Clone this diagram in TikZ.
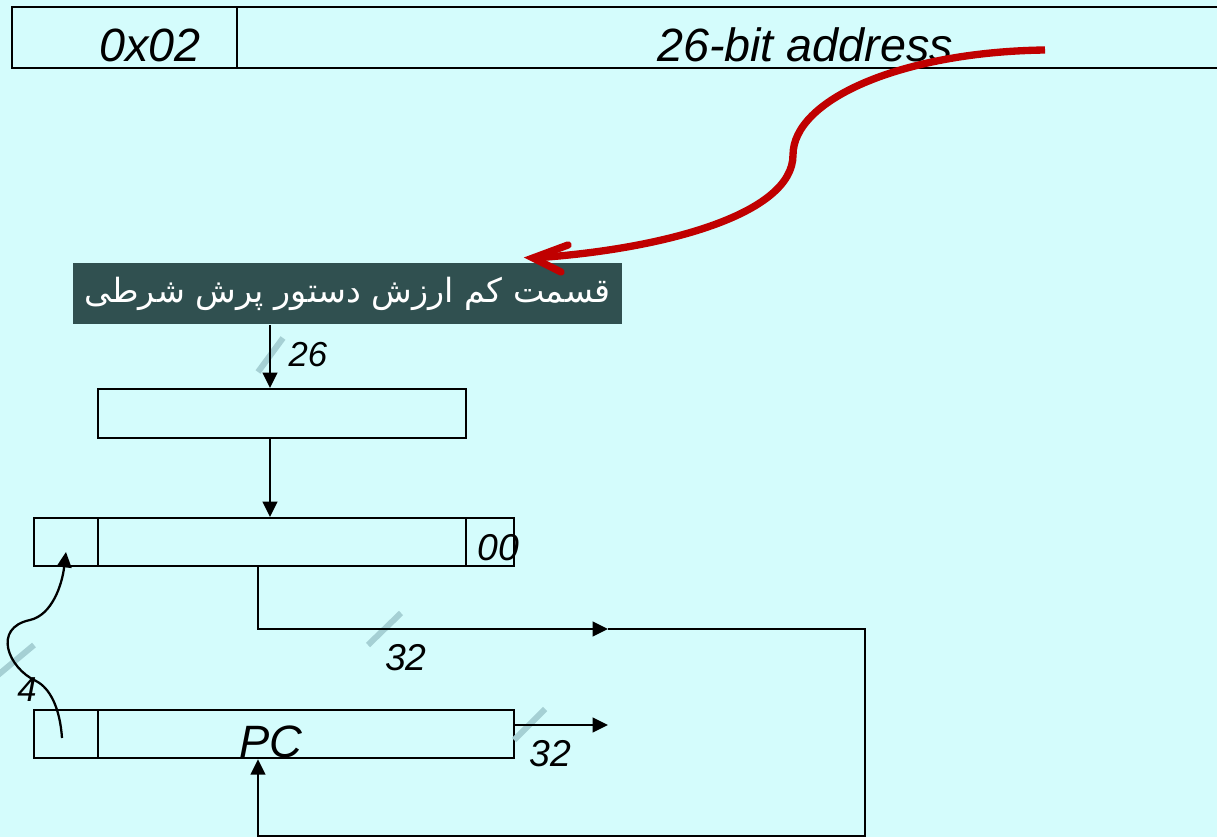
\documentclass[tikz,border=0pt]{standalone}
\usepackage{fontspec}
\setmainfont{Liberation Sans}
\newfontfamily\arabicfont[Script=Arabic]{DejaVu Sans}
\TeXXeTstate=1
\usetikzlibrary{arrows.meta}
\definecolor{bg}{RGB}{212,252,252}
\definecolor{darkbg}{RGB}{48,80,80}
\definecolor{redarr}{RGB}{192,0,0}
\definecolor{slashc}{RGB}{165,208,212}
\tikzset{
  box/.style 2 args={draw=black, line width=1.7pt, inner sep=0pt, anchor=north west,
    minimum width=#1*0.75pt, minimum height=#2*0.75pt},
  wire/.style={draw=black, line width=1.7pt},
  arr/.style={-{Triangle[length=11.5pt,width=11pt]}},
  slash/.style={draw=slashc, line width=4.5pt},
  lbl/.style={inner sep=0pt, font=\fontsize{28}{32}\selectfont\itshape},
  toplbl/.style={inner sep=0pt, font=\fontsize{35}{40}\selectfont\itshape},
}
\begin{document}
\begin{tikzpicture}[x=0.75pt,y=-0.75pt]
\useasboundingbox (0,0) rectangle (1217,837);
\fill[bg] (0,0) rectangle (1217,837);

% top instruction format
\node[box={225}{61}] (t0) at (11,6) {};
\node[box={995}{61}] (t1) at (236,6) {};
\node[toplbl] (l0x) at (150,45) {0x02};
\node[toplbl] (laddr) at (805,45) {26-bit address};

% dark label box
\node[box={549}{61}, draw=none, fill=darkbg, text=white,
  font=\arabicfont\fontsize{25}{30}\selectfont] (dk) at (72,262)
  {\beginR قسمت کم ارزش دستور پرش شرطی\endR};

% red arrow
\coordinate (rs) at (1045,50);
\coordinate (rt) at (533,258);
\draw[redarr, line width=5.5pt] (rs) .. controls (900,52) and (793,100) .. (793,155)
  .. controls (793,215) and (660,250) .. (rt);
\draw[redarr, line width=5.5pt, line cap=round, line join=miter]
  (568,245) -- (rt) -- (561,272);

% boxes
\node[box={368}{49}] (b2) at (97,388) {};
\node[box={64}{48}] (b3a) at (33,517) {};
\node[box={368}{48}] (b3b) at (97,517) {};
\node[box={48}{48}] (b3c) at (465,517) {};
\node[box={64}{48}] (pca) at (33,709) {};
\node[box={416}{48}] (pcb) at (97,709) {};

% coordinates
\coordinate (x270) at (270,0);
\coordinate (x258) at (258,0);
\coordinate (j1) at (608,629);
\coordinate (r1) at (865,629);
\coordinate (r2) at (865,836);
\coordinate (o1) at (608,725);
\coordinate (c4) at (62,738);
\coordinate (c4t) at (66,552);

% slashes
\draw[slash] (258,372) -- (283,338);
\draw[slash] (368,645) -- (401,613);
\draw[slash] (514,740) -- (545,709);
\draw[slash] (-2,675) -- (34,645);

% connectors
\draw[wire,arr] (dk.south -| x270) -- (b2.north -| x270);
\draw[wire,arr] (b2.south -| x270) -- (b3b.north -| x270);
\draw[wire,arr] (b3b.south -| x258) |- (j1);
\draw[wire,arr] (j1) -- (r1) -- (r2) -| (pcb.south -| x258);
\draw[wire,arr] (pcb.east |- o1) -- (o1);
\draw[wire,arr] (c4) .. controls (60,708) and (50,688) .. (36,681)
  .. controls (8,668) and (-8,628) .. (30,620)
  .. controls (52,615) and (62,585) .. (c4t);

% labels
\node[lbl, font=\fontsize{26}{30}\selectfont\itshape] (l26) at (308,355) {26};
\node[lbl] (l00) at (498,548) {00};
\node[lbl] (l32a) at (406,658) {32};
\node[lbl, font=\fontsize{34}{38}\selectfont\itshape] (lpc) at (271,742) {PC};
\node[lbl] (l32b) at (550,754) {32};
\node[lbl, font=\fontsize{26}{30}\selectfont\itshape] (l4) at (27,690) {4};
\end{tikzpicture}
\end{document}
